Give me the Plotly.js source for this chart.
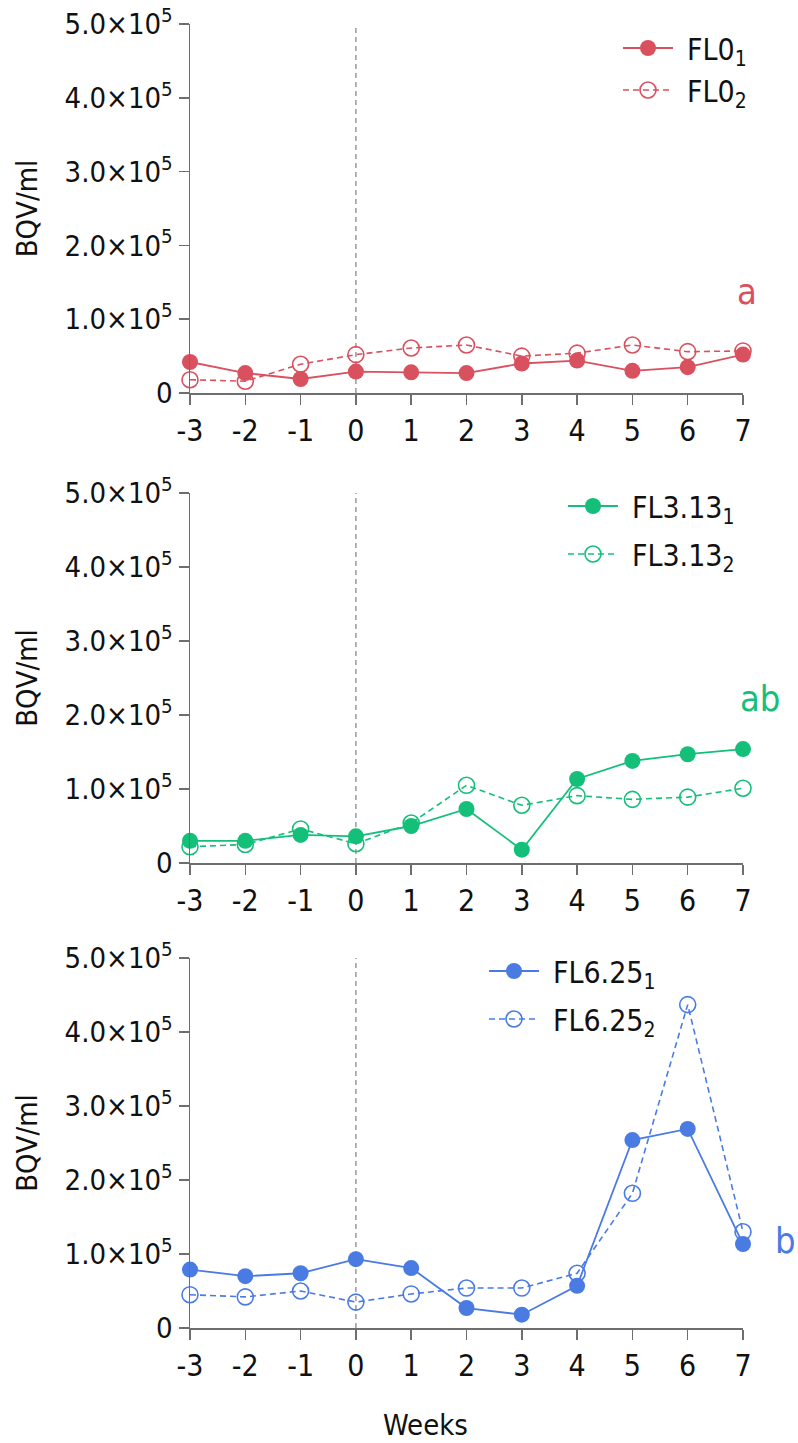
<!DOCTYPE html>
<html>
<head>
<meta charset="utf-8">
<script src="https://cdn.plot.ly/plotly-3.0.1.min.js"></script>
<style>
  html, body { margin: 0; padding: 0; background: #fff; }
  #chart { width: 798px; height: 1443px; }
</style>
</head>
<body>
<div id="chart"></div>
<script>
// Weeks relative to treatment start
const weeks = [-3, -2, -1, 0, 1, 2, 3, 4, 5, 6, 7];

// BQV/ml per group, two replicate series each
const fl0_1    = [42000, 27000, 19000, 29000, 28000, 27000, 40000, 44000, 30000, 35000, 52000];
const fl0_2    = [18000, 16000, 39000, 52000, 61000, 65000, 50000, 54000, 65000, 56000, 57000];
const fl313_1  = [30000, 30000, 38000, 36000, 50000, 73000, 18000, 113500, 138000, 147000, 154000];
const fl313_2  = [22000, 25000, 46000, 26000, 54000, 105000, 78000, 91000, 86000, 89000, 101000];
const fl625_1  = [79000, 70000, 74000, 93000, 81000, 27000, 18000, 57000, 254000, 269000, 113500];
const fl625_2  = [45000, 42000, 50000, 35000, 46000, 54000, 54000, 74000, 182000, 437000, 130000];

const yTickVals = [0, 100000, 200000, 300000, 400000, 500000];
const yTickText = ['0', '1.0×10<sup>5</sup>', '2.0×10<sup>5</sup>', '3.0×10<sup>5</sup>', '4.0×10<sup>5</sup>', '5.0×10<sup>5</sup>'];

const groupNames = [
  ['FL0<sub>1</sub>', 'FL0<sub>2</sub>'],
  ['FL3.13<sub>1</sub>', 'FL3.13<sub>2</sub>'],
  ['FL6.25<sub>1</sub>', 'FL6.25<sub>2</sub>']
];
const groupLetters = ['a', 'ab', 'b'];

const colors = ['#d9505f', '#14bf79', '#4a7be3'];
const FONT = 'DejaVu Sans Condensed, Liberation Sans Narrow, DejaVu Sans, sans-serif';
const axisColor = '#6e6e6e';
const LEGEND_PAD = '\u2004'; // small gap between legend symbol and label

const series = [[fl0_1, fl0_2], [fl313_1, fl313_2], [fl625_1, fl625_2]];

// vertical extent of each panel in pixels
const W = 798, H = 1443;
const panelsPx = [[24, 393], [493, 863], [958, 1328]];
const xDomain = [190 / W, 743 / W];

const traces = [];
series.forEach((pair, i) => {
  const ax = i === 0 ? '' : String(i + 1);
  const legendId = i === 0 ? 'legend' : 'legend' + (i + 1);
  traces.push({
    x: weeks, y: pair[0], type: 'scatter', mode: 'lines+markers',
    name: LEGEND_PAD + groupNames[i][0], xaxis: 'x' + ax, yaxis: 'y' + ax, legend: legendId,
    legendgroup: i === 0 ? 'g0' : 'g' + i + 'a',
    line: { color: colors[i], width: 1.8 },
    marker: { symbol: 'circle', size: 16, color: colors[i] },
    cliponaxis: false
  });
  traces.push({
    x: weeks, y: pair[1], type: 'scatter', mode: 'lines+markers',
    name: LEGEND_PAD + groupNames[i][1], xaxis: 'x' + ax, yaxis: 'y' + ax, legend: legendId,
    legendgroup: i === 0 ? 'g0' : 'g' + i + 'b',
    line: { color: colors[i], width: 1.6, dash: '6px,4px' },
    marker: { symbol: 'circle-open', size: 16, color: colors[i], line: { width: 1.6, color: colors[i] } },
    cliponaxis: false
  });
});

const layout = {
  width: W, height: H,
  margin: { l: 0, r: 0, t: 0, b: 0 },
  paper_bgcolor: '#fff', plot_bgcolor: '#fff',
  font: { family: FONT, size: 29, color: '#111' },
  showlegend: true,
  shapes: [],
  annotations: []
};

const legendPos = [[618, 22], [563, 480], [484, 945]];
const legendGaps = [0, 6, 6];

panelsPx.forEach((p, i) => {
  const ax = i === 0 ? '' : String(i + 1);
  const dom = [1 - p[1] / H, 1 - p[0] / H];
  layout['xaxis' + ax] = {
    domain: xDomain, anchor: 'y' + ax, range: [-3, 7],
    tickmode: 'array', tickvals: weeks, ticktext: weeks.map(String),
    showline: true, linecolor: axisColor, linewidth: 1.5,
    ticks: 'outside', ticklen: 10, tickwidth: 1.5, tickcolor: axisColor,
    showgrid: false, zeroline: false, automargin: false,
    tickfont: { family: FONT, size: 30, color: '#111' }
  };
  layout['yaxis' + ax] = {
    domain: dom, anchor: 'x' + ax, range: [0, 500000],
    tickmode: 'array', tickvals: yTickVals, ticktext: yTickText,
    showline: true, linecolor: axisColor, linewidth: 1.5,
    ticks: 'outside', ticklen: 10, tickwidth: 1.5, tickcolor: axisColor,
    showgrid: false, zeroline: false, automargin: false,
    tickfont: { family: FONT, size: 29, color: '#111' },
    title: { text: 'BQV/ml', font: { family: FONT, size: 29, color: '#111' }, standoff: 18 }
  };
  const legendId = i === 0 ? 'legend' : 'legend' + (i + 1);
  layout[legendId] = {
    x: legendPos[i][0] / W, y: 1 - legendPos[i][1] / H,
    xanchor: 'left', yanchor: 'top', xref: 'paper', yref: 'paper',
    bgcolor: 'rgba(0,0,0,0)', borderwidth: 0,
    font: { family: FONT, size: 30, color: '#111' },
    itemwidth: 50,
    tracegroupgap: legendGaps[i]
  };
  // reference line at week 0
  layout.shapes.push({
    type: 'line', xref: 'x' + ax, yref: 'y' + ax + ' domain',
    x0: 0, x1: 0, y0: 0, y1: 1,
    line: { color: '#9a9a9a', width: 1.5, dash: '5px,4px' },
    layer: 'below'
  });
});

// group significance letters
const letterPos = [[747, 292], [760, 698], [785, 1240]];
letterPos.forEach((pos, i) => {
  layout.annotations.push({
    text: groupLetters[i], xref: 'paper', yref: 'paper',
    x: pos[0] / W, y: 1 - pos[1] / H, xanchor: 'center', yanchor: 'middle',
    showarrow: false, font: { family: FONT, size: 36, color: colors[i] }
  });
});

// shared x-axis label
layout.annotations.push({
  text: 'Weeks', xref: 'paper', yref: 'paper',
  x: 425 / W, y: 1 - 1425 / H, xanchor: 'center', yanchor: 'middle',
  showarrow: false, font: { family: FONT, size: 29, color: '#111' }
});

Plotly.newPlot('chart', traces, layout, { staticPlot: true, displayModeBar: false });
</script>
</body>
</html>
